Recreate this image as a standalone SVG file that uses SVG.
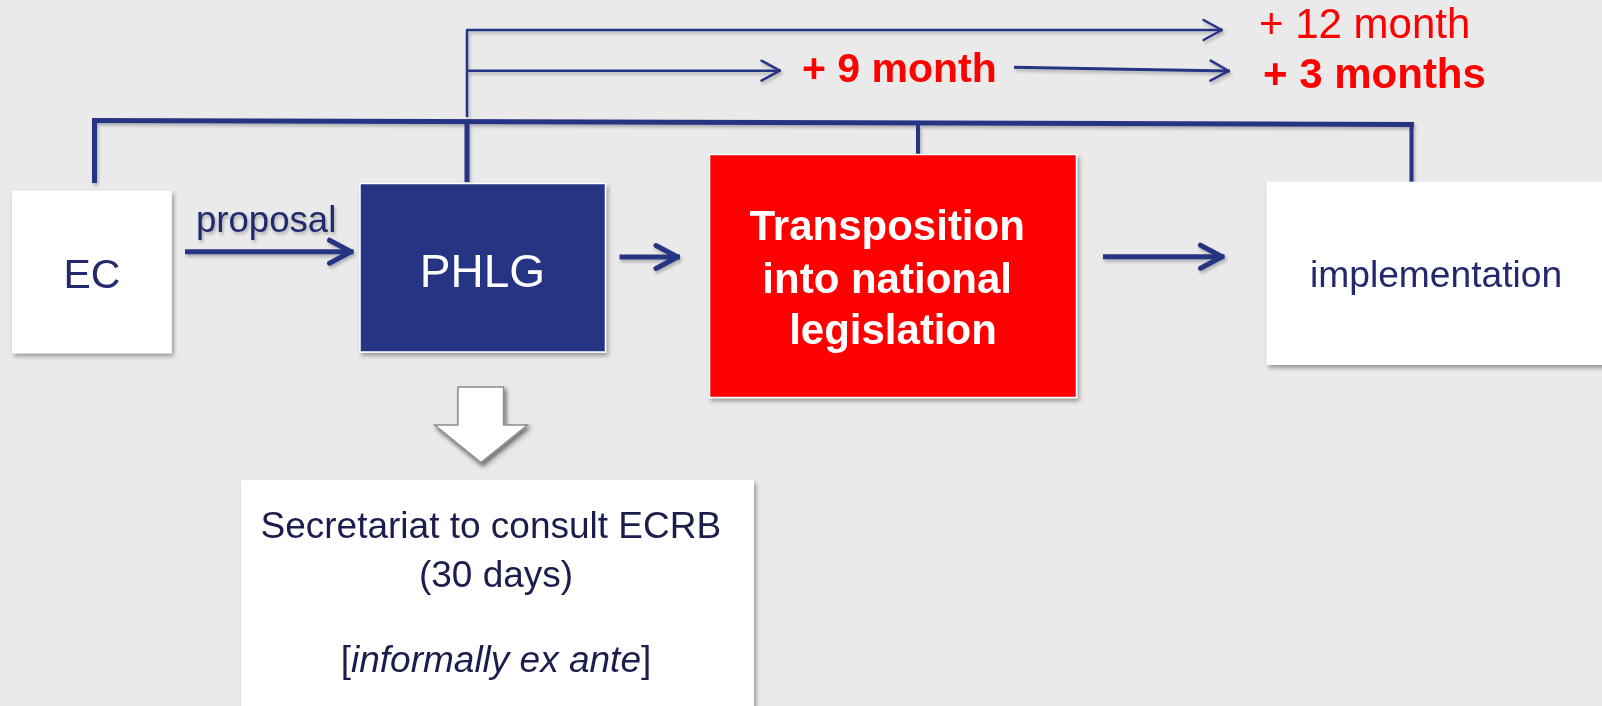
<svg xmlns="http://www.w3.org/2000/svg" width="1602" height="706" viewBox="0 0 1602 706">
<style>
  text { font-family: "Liberation Sans", Arial, sans-serif; }
  .navy { fill: #24296E; }
  .dark { fill: #1B1D4D; }
  .white { fill: #FFFFFF; }
  .red { fill: #FF0000; }
  .b { font-weight: bold; }
  .thick { fill: none; stroke: #283583; stroke-width: 5; }
  .mid { fill: none; stroke: #283583; stroke-width: 4; }
  .thin { fill: none; stroke: #283583; stroke-width: 2.5; }
  .arrowT { fill: none; stroke: #283583; stroke-width: 5; marker-end: url(#headThick); }
  .arrowt { fill: none; stroke: #283583; stroke-width: 2.5; marker-end: url(#headThin); }
</style>
<defs>
  <filter id="shadow" x="-10%" y="-10%" width="130%" height="130%">
    <feDropShadow dx="2" dy="3" stdDeviation="2.2" flood-color="#000" flood-opacity="0.35"/>
  </filter>
  <filter id="lshadow" x="-5%" y="-50%" width="110%" height="200%">
    <feDropShadow dx="1.5" dy="2.5" stdDeviation="1.5" flood-color="#000" flood-opacity="0.25"/>
  </filter>
  <marker id="headThick" markerUnits="userSpaceOnUse" viewBox="-30 -20 40 40" markerWidth="40" markerHeight="40" refX="0" refY="0" orient="auto" overflow="visible">
    <path d="M-24,-11.5 L-2.5,0 L-24,11.5" fill="none" stroke="#283583" stroke-width="5" stroke-linecap="round" stroke-linejoin="round"/>
  </marker>
  <marker id="headThin" markerUnits="userSpaceOnUse" viewBox="-30 -20 40 40" markerWidth="40" markerHeight="40" refX="0" refY="0" orient="auto" overflow="visible">
    <path d="M-19.5,-10 L-1.2,0 L-19.5,10" fill="none" stroke="#283583" stroke-width="2.5" stroke-linecap="round" stroke-linejoin="round"/>
  </marker>
</defs>

<rect x="0" y="0" width="1602" height="706" fill="#EAEAEA"/>

<g id="connectors" filter="url(#lshadow)">
  <!-- top bracket -->
  <line class="thick" x1="92" y1="120.5" x2="1414" y2="124.5"/>
  <line class="thick" x1="94.5" y1="121" x2="94.5" y2="183"/>
  <line class="thick" x1="467" y1="123" x2="467" y2="182"/>
  <line class="mid" x1="918" y1="124" x2="918" y2="154"/>
  <line class="mid" x1="1411.5" y1="124" x2="1411.5" y2="182"/>
  <!-- timeline arrows -->
  <path class="thin" d="M467,117 L467,30"/>
  <line class="arrowt" x1="466" y1="30" x2="1223" y2="30"/>
  <line class="arrowt" x1="467" y1="70.7" x2="781" y2="70.7"/>
  <line class="arrowt" x1="1014" y1="67.3" x2="1230" y2="71" style="stroke-width:3"/>
  <!-- flow arrows -->
  <line class="arrowT" x1="185" y1="251.7" x2="353.5" y2="251.7"/>
  <line class="arrowT" x1="619.5" y1="257" x2="680" y2="257"/>
  <line class="arrowT" x1="1103" y1="256.7" x2="1224.5" y2="256.7"/>
  <!-- block arrow down -->
  <polygon points="458,387 503.6,387 503.6,425 527.5,425 481,462.7 434.6,425 458,425" fill="#FFFFFF" stroke="#8C8C8C" stroke-width="1.5" filter="url(#shadow)"/>
</g>

<g id="label-proposal">
  <text x="196" y="231.7" font-size="36.6" class="navy" filter="url(#lshadow)">proposal</text>
</g>

<g id="node-ec">
  <rect x="12" y="190.7" width="159.7" height="162.6" fill="#FFFFFF" filter="url(#shadow)"/>
  <text x="92" y="288.3" font-size="41" text-anchor="middle" class="navy">EC</text>
</g>

<g id="node-phlg">
  <rect x="360" y="183.5" width="245.5" height="168.5" fill="#283583" stroke="#FFFFFF" stroke-width="1.5" filter="url(#shadow)"/>
  <text x="482.5" y="286.7" font-size="46" text-anchor="middle" class="white">PHLG</text>
</g>

<g id="node-transposition">
  <rect x="709.5" y="154.5" width="367" height="243" fill="#FF0000" stroke="#FFFFFF" stroke-width="1.5" filter="url(#shadow)"/>
  <text font-size="42" text-anchor="middle" class="white b">
    <tspan x="893" y="240">Transposition</tspan>
    <tspan x="893" y="293">into national</tspan>
    <tspan x="893" y="343.5">legislation</tspan>
  </text>
</g>

<g id="node-implementation">
  <rect x="1266.7" y="181.7" width="345" height="183.3" fill="#FFFFFF" filter="url(#shadow)"/>
  <text x="1310" y="286.7" font-size="37.2" class="navy">implementation</text>
</g>

<g id="node-secretariat">
  <rect x="241" y="480" width="513" height="240" fill="#FFFFFF" filter="url(#shadow)"/>
  <text font-size="37" text-anchor="middle" class="dark">
    <tspan x="496" y="538.3">Secretariat to consult ECRB</tspan>
    <tspan x="496" y="586.7">(30 days)</tspan>
  </text>
  <text x="496" y="672" font-size="37" text-anchor="middle" class="dark">[<tspan font-style="italic">informally ex ante</tspan>]</text>
</g>

<g id="label-12month">
  <text x="1259" y="38.3" font-size="42" class="red">+ 12 month</text>
</g>
<g id="label-9month">
  <text x="802" y="81.7" font-size="41" class="red b">+ 9 month</text>
</g>
<g id="label-3months">
  <text x="1263" y="88.3" font-size="42" class="red b">+ 3 months</text>
</g>
</svg>
